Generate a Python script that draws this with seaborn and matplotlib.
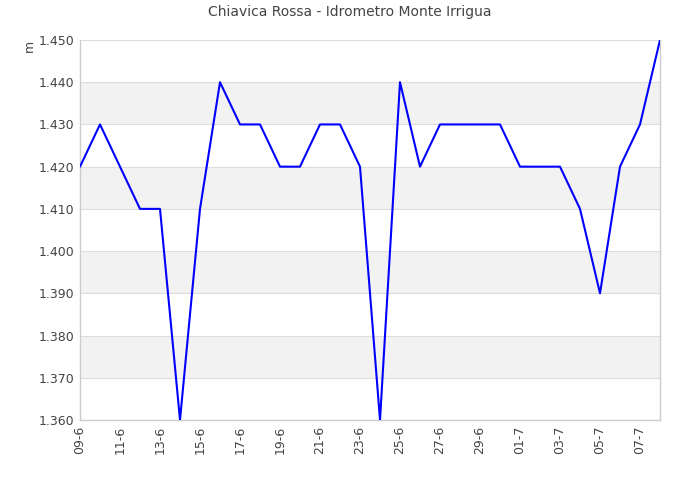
import matplotlib
matplotlib.use('Agg')
import matplotlib.pyplot as plt
import pandas as pd
import seaborn as sns

days = ['09-6', '10-6', '11-6', '12-6', '13-6', '14-6', '15-6', '16-6', '17-6', '18-6',
        '19-6', '20-6', '21-6', '22-6', '23-6', '24-6', '25-6', '26-6', '27-6', '28-6',
        '29-6', '30-6', '01-7', '02-7', '03-7', '04-7', '05-7', '06-7', '07-7', '08-7']
livello = [1.420, 1.430, 1.420, 1.410, 1.410, 1.360, 1.410, 1.440, 1.430, 1.430,
           1.420, 1.420, 1.430, 1.430, 1.420, 1.360, 1.440, 1.420, 1.430, 1.430,
           1.430, 1.430, 1.420, 1.420, 1.420, 1.410, 1.390, 1.420, 1.430, 1.450]
y_ticks = [1.360, 1.370, 1.380, 1.390, 1.400, 1.410, 1.420, 1.430, 1.440, 1.450]

df = pd.DataFrame({'giorno': days, 'm': livello})
df['pos'] = range(len(df))

sns.set_style('white')
plt.rcParams['font.family'] = ['DejaVu Sans']

fig = plt.figure(figsize=(7, 5), dpi=100)
ax = fig.add_axes([80/700, 80/500, 580/700, 380/500])

# bande alternate grigie
for i in range(len(y_ticks) - 1):
    if i % 2 == 1:
        ax.axhspan(y_ticks[i], y_ticks[i+1], color='#f2f2f2', zorder=0, lw=0)
for t in y_ticks:
    ax.axhline(t, color='#dddddd', lw=0.8, zorder=1)

sns.lineplot(data=df, x='pos', y='m', color='#0000ff', lw=1.5, ax=ax, zorder=3)

ax.set_xlim(0, len(df) - 1)
ax.set_ylim(y_ticks[0], y_ticks[-1])
ax.set_xticks(df['pos'][::2])
ax.set_xticklabels(df['giorno'][::2], rotation=90)
ax.set_yticks(y_ticks)
ax.set_yticklabels(['%.3f' % v for v in y_ticks])
ax.tick_params(length=0, labelsize=9, colors='#444444', pad=4)
ax.set_xlabel('')
ax.set_ylabel('m', fontsize=9, color='#444444')
ax.yaxis.set_label_coords(-0.076, 0.985)

for s in ['left', 'bottom', 'right']:
    ax.spines[s].set_color('#cccccc')
    ax.spines[s].set_linewidth(1)
ax.spines['top'].set_visible(False)

fig.suptitle('Chiavica Rossa - Idrometro Monte Irrigua', fontsize=10, color='#444444', y=0.99)

fig.savefig('out.png', dpi=100)
